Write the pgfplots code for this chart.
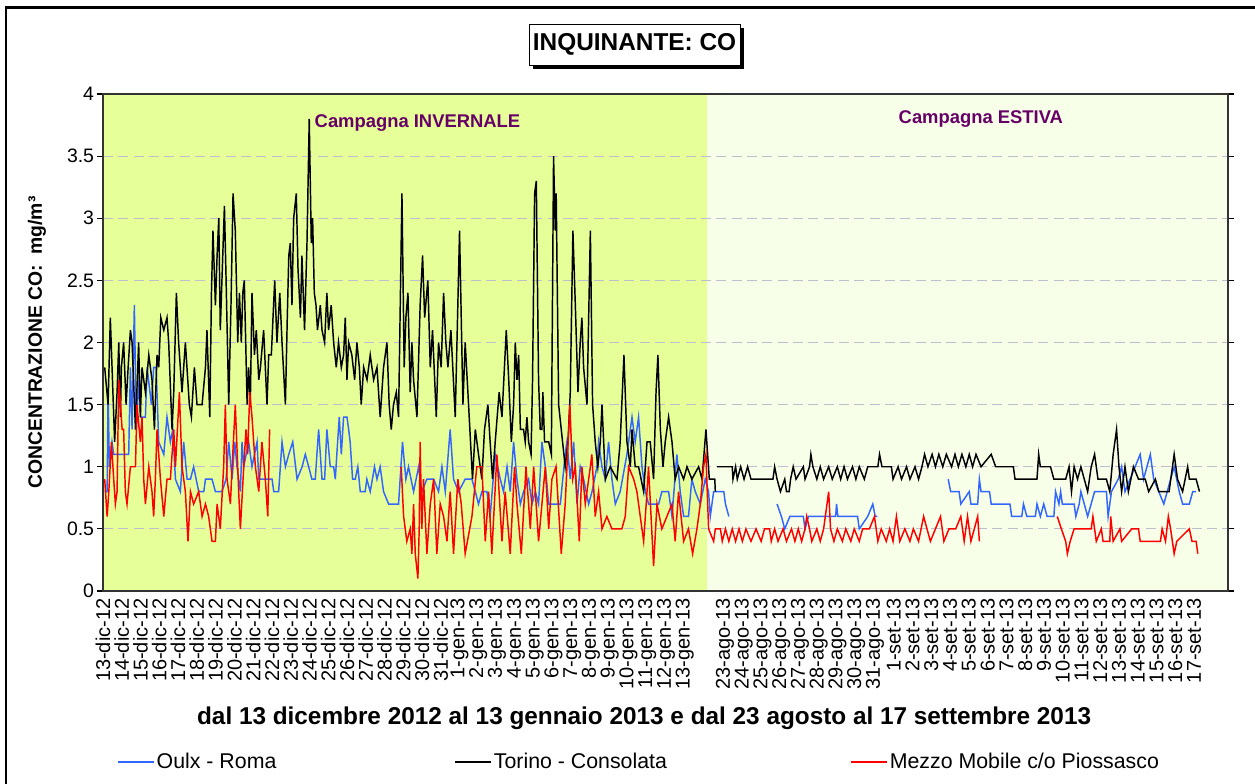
\documentclass[border=0pt]{standalone}
\usepackage{fontspec}
\setmainfont{Liberation Sans}
\usepackage{pgfplots}
\pgfplotsset{compat=1.18}
\usepackage{pgfplotstable}
\definecolor{winter}{RGB}{230,255,153}
\definecolor{summer}{RGB}{248,255,232}
\definecolor{oulx}{RGB}{51,102,255}
\definecolor{camp}{RGB}{102,0,102}
\definecolor{gridc}{RGB}{190,190,205}

\pgfplotstableread{
x y
0.09 0.8
0.22 0.8
0.27 1.6
0.34 1.0
0.48 1.2
0.57 1.1
1.37 1.1
1.46 1.8
1.55 1.3
1.67 2.3
1.78 1.3
1.90 1.7
2.01 1.4
2.26 1.4
2.35 1.8
2.58 1.5
2.70 1.8
2.83 1.8
2.97 1.2
3.24 1.1
3.41 1.4
3.59 1.2
3.72 1.3
3.86 0.9
4.12 0.8
4.30 1.2
4.48 0.9
4.66 0.9
4.83 1.0
5.10 0.8
5.37 0.8
5.46 0.9
5.81 0.9
5.99 0.8
6.34 0.8
6.56 0.9
6.70 1.2
6.88 0.9
7.02 1.2
7.14 1.0
7.32 0.8
7.41 1.2
7.50 1.0
7.76 1.2
7.94 1.0
8.21 1.2
8.30 0.9
9.01 0.9
9.10 0.8
9.36 0.8
9.54 1.2
9.72 1.0
9.90 1.1
10.11 1.2
10.34 0.9
10.61 1.0
10.78 1.1
10.96 1.0
11.13 0.9
11.31 0.9
11.49 1.3
11.67 0.9
11.81 0.9
11.93 1.3
12.11 1.0
12.29 1.0
12.38 0.9
12.46 1.1
12.59 1.4
12.70 1.1
12.82 1.4
13.00 1.4
13.09 1.3
13.17 1.2
13.30 0.9
13.44 0.9
13.58 1.0
13.71 0.8
13.97 0.8
14.06 0.9
14.24 0.8
14.47 1.0
14.60 0.9
14.77 1.0
14.95 0.8
15.22 0.7
15.75 0.7
15.96 1.2
16.14 0.9
16.28 1.0
16.55 0.8
16.82 1.0
16.99 0.8
17.26 0.9
17.62 0.9
17.88 0.8
18.06 1.0
18.24 0.8
18.50 1.3
18.68 0.9
18.95 0.8
19.30 0.9
19.66 0.9
19.84 0.8
20.01 0.7
20.19 0.8
20.46 0.8
20.63 0.6
20.90 1.1
21.17 0.9
21.34 0.8
21.53 1.0
21.70 0.8
21.88 1.2
22.06 0.9
22.24 0.7
22.41 0.8
22.68 0.9
22.86 0.7
23.04 0.8
23.21 0.7
23.39 1.2
23.57 1.0
23.75 0.7
24.37 0.7
24.63 1.1
24.72 1.2
24.90 0.9
25.08 1.2
25.26 0.7
25.43 1.0
25.61 0.9
25.88 0.7
26.06 0.8
26.32 1.0
26.41 1.2
26.59 1.0
26.77 0.9
26.94 1.2
27.12 0.9
27.30 0.7
27.56 0.8
27.92 1.1
28.19 1.4
28.36 1.2
28.54 1.4
28.72 1.0
28.90 0.8
29.07 0.7
29.61 0.7
29.78 0.8
30.14 0.8
30.32 0.6
30.58 1.1
30.76 0.8
30.94 0.6
31.20 0.6
31.38 0.9
31.56 0.8
31.83 0.7
32.09 0.9
32.27 0.8
32.36 0.6
32.45 0.7
32.54 0.8
33.08 0.8
33.17 0.7
33.35 0.6
33.40 nan
35.92 0.7
36.15 0.6
36.33 0.5
36.60 0.6
37.32 0.6
37.41 0.5
37.59 0.6
39.04 0.6
39.09 0.7
39.16 0.6
40.21 0.6
40.30 0.5
40.75 0.6
41.02 0.7
41.15 0.6
41.26 0.6
41.30 nan
45.04 0.9
45.17 0.8
45.62 0.8
45.71 0.7
46.16 0.8
46.25 0.7
46.61 0.7
46.70 0.9
46.79 0.8
47.24 0.8
47.33 0.7
48.33 0.7
48.42 0.6
48.96 0.6
49.05 0.7
49.23 0.6
49.68 0.6
49.77 0.7
49.95 0.6
50.13 0.7
50.31 0.6
50.67 0.6
50.76 0.8
50.94 0.7
51.03 0.8
51.12 0.7
51.75 0.7
51.84 0.6
52.02 0.7
52.11 0.8
52.29 0.7
52.47 0.6
52.84 0.8
53.47 0.8
53.56 0.6
53.74 0.8
54.10 0.9
54.28 1.0
54.46 0.8
54.73 0.9
55.00 1.0
55.27 1.1
55.45 0.9
55.81 1.1
55.99 0.9
56.26 0.8
56.53 0.7
56.71 0.8
56.89 0.9
57.08 1.0
57.35 0.8
57.53 0.7
57.89 0.7
58.07 0.8
58.25 0.8
}\oulx

\pgfplotstableread{
x y
0.09 1.8
0.27 1.5
0.39 2.2
0.62 1.2
0.75 1.6
0.84 2.0
0.93 1.4
0.98 1.8
1.10 2.0
1.23 1.5
1.34 1.8
1.46 2.1
1.55 2.0
1.73 1.3
1.90 2.0
1.99 1.4
2.08 1.8
2.26 1.6
2.44 1.9
2.61 1.7
2.74 1.3
2.88 1.9
2.97 1.8
3.08 2.2
3.24 2.1
3.41 2.2
3.50 2.0
3.68 1.3
3.77 1.6
3.91 2.4
4.03 2.0
4.21 1.6
4.39 2.0
4.60 1.5
4.71 1.4
4.87 1.8
5.01 1.5
5.28 1.5
5.46 1.8
5.54 2.1
5.69 1.4
5.78 2.4
5.86 2.9
5.99 2.3
6.08 2.7
6.17 3.0
6.25 2.1
6.47 3.1
6.56 2.5
6.70 1.5
6.82 2.3
6.93 3.2
7.05 2.9
7.18 2.0
7.27 2.4
7.37 2.0
7.45 2.4
7.53 2.5
7.68 1.5
7.76 1.8
7.85 1.5
7.94 2.4
8.07 1.9
8.17 2.1
8.30 1.7
8.39 1.8
8.56 2.1
8.74 1.5
8.83 1.9
8.97 1.9
9.06 2.2
9.15 2.5
9.27 2.0
9.42 2.4
9.54 2.0
9.72 1.5
9.82 2.2
9.90 2.7
9.98 2.8
10.07 2.3
10.16 3.0
10.30 3.2
10.39 2.6
10.52 2.2
10.60 2.7
10.74 2.1
10.87 2.8
10.99 3.8
11.10 2.8
11.17 3.0
11.26 2.4
11.35 2.3
11.43 2.1
11.58 2.3
11.67 2.1
11.81 2.0
11.93 2.4
12.02 2.1
12.16 2.3
12.29 2.0
12.43 1.8
12.55 2.0
12.70 1.8
12.82 1.9
12.91 2.2
13.00 1.7
13.09 2.0
13.26 1.9
13.41 1.7
13.53 2.0
13.66 1.8
13.76 1.5
13.89 1.8
14.07 1.7
14.24 1.9
14.42 1.7
14.60 1.8
14.77 1.4
14.95 1.8
15.13 2.0
15.25 1.5
15.36 1.3
15.48 1.5
15.63 1.6
15.75 1.4
15.93 3.2
16.05 1.8
16.14 2.2
16.25 2.4
16.37 1.6
16.46 2.0
16.55 1.7
16.73 1.4
16.90 2.3
17.03 2.7
17.14 2.2
17.31 2.5
17.44 1.8
17.56 2.1
17.76 1.4
17.88 2.0
18.02 1.8
18.15 2.4
18.27 2.0
18.38 1.8
18.54 2.1
18.77 1.4
19.00 2.9
19.18 1.5
19.30 2.0
19.48 1.5
19.69 0.9
19.84 1.3
20.01 1.1
20.19 0.9
20.33 1.3
20.51 1.5
20.63 1.2
20.76 0.9
20.90 1.2
21.11 1.6
21.26 1.4
21.49 2.1
21.62 1.7
21.76 1.2
21.88 1.5
21.97 2.0
22.06 1.7
22.15 1.9
22.24 1.3
22.41 1.3
22.50 1.2
22.59 1.4
22.68 1.2
22.81 1.1
22.89 1.7
23.00 3.2
23.09 3.3
23.21 1.7
23.30 1.3
23.39 1.3
23.44 1.6
23.53 1.2
23.75 1.2
23.89 1.1
24.01 3.5
24.10 2.9
24.15 3.2
24.28 1.5
24.42 1.3
24.63 1.0
24.78 1.2
24.90 1.6
25.04 2.9
25.17 2.3
25.31 1.6
25.43 2.0
25.52 2.2
25.61 1.8
25.79 1.5
25.97 2.9
26.09 1.5
26.23 1.2
26.37 1.0
26.50 1.2
26.59 1.5
26.77 0.9
27.03 1.0
27.39 0.9
27.56 1.2
27.76 1.9
27.92 1.2
28.10 1.0
28.19 1.3
28.36 1.0
28.54 1.0
28.81 0.8
28.99 1.2
29.16 1.2
29.34 0.9
29.47 1.6
29.57 1.9
29.70 1.3
29.84 1.0
29.96 1.2
30.14 1.4
30.32 1.2
30.49 0.9
30.67 1.0
30.94 0.9
31.12 1.0
31.38 0.9
31.74 1.0
31.92 0.9
32.13 1.3
32.31 0.9
32.60 0.9
32.63 0.8
32.67 nan
32.72 1.0
33.53 1.0
33.57 0.9
33.71 1.0
33.80 0.9
33.98 1.0
34.16 0.9
34.35 1.0
34.53 0.9
35.70 0.9
35.79 1.0
35.92 0.9
36.10 0.8
36.33 0.9
36.42 0.8
36.56 0.8
36.64 0.9
36.78 1.0
36.93 0.9
37.32 1.0
37.41 0.9
37.65 1.0
37.72 1.1
37.83 1.0
38.04 0.9
38.22 1.0
38.40 0.9
38.67 1.0
38.86 0.9
39.13 1.0
39.31 0.9
39.49 1.0
39.67 0.9
39.94 1.0
40.12 0.9
40.30 1.0
40.57 0.9
40.75 1.0
41.29 1.0
41.38 1.1
41.51 1.0
42.01 1.0
42.10 0.9
42.37 1.0
42.55 0.9
42.82 1.0
43.00 0.9
43.27 1.0
43.46 0.9
43.64 1.0
43.78 1.1
43.96 1.0
44.18 1.1
44.36 1.0
44.54 1.1
44.75 1.0
44.94 1.1
45.22 1.0
45.40 1.1
45.58 1.0
45.77 1.1
45.98 1.0
46.16 1.1
46.34 1.0
46.52 1.1
46.79 1.0
47.33 1.1
47.57 1.0
48.51 1.0
48.60 0.9
49.77 0.9
49.86 1.1
49.95 1.0
50.49 1.0
50.67 0.9
51.30 0.9
51.48 1.0
51.61 0.8
51.75 1.0
51.93 0.9
52.11 1.0
52.29 0.9
52.47 0.8
52.66 1.0
52.84 1.1
53.02 0.9
53.47 0.9
53.65 0.8
53.83 1.1
54.01 1.3
54.14 1.0
54.28 0.8
54.46 1.0
54.64 0.8
54.91 1.0
55.18 0.9
55.54 0.9
55.72 0.8
56.08 0.9
56.26 0.8
56.81 0.8
56.99 1.0
57.08 1.1
57.26 0.9
57.53 0.8
57.80 1.0
57.89 0.9
58.25 0.9
58.43 0.8
}\torino

\pgfplotstableread{
x y
0.09 0.9
0.22 0.6
0.31 0.8
0.45 1.2
0.57 0.9
0.66 0.7
0.75 0.8
0.84 1.7
0.93 1.5
1.02 1.3
1.10 1.3
1.19 0.8
1.28 0.7
1.46 1.0
1.73 1.0
1.81 1.5
1.99 1.2
2.08 1.4
2.17 0.9
2.26 0.7
2.44 1.0
2.61 0.8
2.70 0.6
2.79 0.9
2.88 1.3
3.06 0.9
3.24 0.6
3.41 0.9
3.59 0.9
3.77 1.3
3.86 1.0
4.07 1.6
4.21 1.0
4.39 0.8
4.53 0.4
4.66 0.8
4.83 0.7
5.10 0.8
5.19 0.7
5.28 0.6
5.46 0.7
5.63 0.6
5.81 0.4
5.99 0.4
6.08 0.7
6.25 0.5
6.43 1.0
6.52 1.5
6.61 0.9
6.79 0.7
6.88 1.0
7.05 1.5
7.23 0.8
7.32 0.5
7.50 1.0
7.62 1.3
7.71 1.1
7.82 1.6
7.94 1.4
8.12 1.0
8.30 0.8
8.47 1.2
8.65 0.9
8.78 0.6
8.88 1.3
8.92 nan
15.89 1.0
16.02 0.6
16.19 0.4
16.37 0.5
16.46 0.3
16.55 0.7
16.64 0.3
16.78 0.1
16.85 0.5
16.90 1.2
16.99 0.5
17.08 0.9
17.26 0.3
17.44 0.7
17.62 0.9
17.79 0.3
17.97 0.7
18.15 0.6
18.33 0.4
18.50 0.8
18.68 0.3
18.91 0.9
19.09 0.7
19.30 0.3
19.66 0.6
19.92 1.0
20.19 1.0
20.37 0.4
20.55 0.8
20.72 0.3
20.99 1.1
21.26 0.4
21.43 0.8
21.70 0.3
21.93 1.0
22.06 0.7
22.29 0.3
22.54 1.0
22.77 0.5
22.95 1.0
23.21 0.4
23.57 1.0
23.75 0.5
23.92 0.9
24.14 1.0
24.42 0.3
24.63 0.7
24.88 1.5
25.03 0.9
25.17 1.0
25.38 0.4
25.52 1.0
25.70 0.7
25.97 1.0
26.05 1.1
26.23 0.6
26.41 0.8
26.59 0.5
26.85 0.6
27.12 0.5
27.65 0.5
27.83 0.6
28.01 1.0
28.28 0.9
28.45 0.8
28.81 0.4
28.99 0.8
29.07 1.0
29.34 0.2
29.52 0.7
29.78 0.5
30.05 0.6
30.32 0.7
30.49 0.4
30.67 0.8
30.94 0.4
31.20 0.5
31.42 0.3
31.65 0.5
31.83 0.7
32.00 1.0
32.13 1.1
32.27 0.5
32.54 0.4
32.63 0.5
32.90 0.5
33.00 0.4
33.17 0.5
33.35 0.4
33.53 0.5
33.71 0.4
33.89 0.5
34.07 0.4
34.26 0.5
34.53 0.4
34.80 0.5
35.07 0.4
35.25 0.5
35.52 0.5
35.61 0.4
35.79 0.5
35.97 0.4
36.24 0.5
36.42 0.4
36.69 0.5
36.87 0.4
37.05 0.5
37.23 0.4
37.41 0.5
37.50 0.6
37.65 0.5
37.77 0.4
38.04 0.5
38.22 0.4
38.40 0.5
38.67 0.8
38.77 0.5
38.95 0.4
39.13 0.5
39.40 0.4
39.58 0.5
39.85 0.4
40.03 0.5
40.30 0.4
40.48 0.5
40.84 0.5
41.11 0.6
41.29 0.4
41.47 0.5
41.74 0.4
41.92 0.5
42.10 0.4
42.28 0.6
42.46 0.4
42.73 0.5
43.00 0.4
43.18 0.5
43.46 0.4
43.73 0.6
43.91 0.5
44.09 0.4
44.36 0.5
44.63 0.6
44.81 0.4
45.08 0.5
45.44 0.5
45.71 0.6
45.89 0.4
46.07 0.6
46.25 0.4
46.43 0.5
46.61 0.6
46.70 0.4
46.75 nan
50.85 0.6
51.07 0.5
51.30 0.4
51.39 0.3
51.54 0.4
51.75 0.5
52.66 0.5
52.75 0.6
52.93 0.4
53.20 0.5
53.29 0.4
53.65 0.4
53.70 0.6
53.83 0.4
54.19 0.5
54.28 0.4
54.82 0.5
55.18 0.5
55.27 0.4
56.35 0.4
56.44 0.5
56.62 0.4
56.77 0.6
56.89 0.5
57.08 0.3
57.22 0.4
57.89 0.5
58.03 0.4
58.25 0.4
58.34 0.3
}\mezzo

\begin{document}
\begin{tikzpicture}
\path (0,0) rectangle (941.25pt,587.25pt);
\draw[overlay, line width=1.6pt] (4.5pt,-20pt) -- (4.5pt,581.6pt) -- (960pt,581.6pt);
% title box
\fill[black] (399.5pt,535.5pt) rectangle (558pt,566.5pt);
\filldraw[fill=white,draw=black,line width=0.7pt] (396.75pt,538.5pt) rectangle (555pt,569.25pt);
\node[font=\bfseries\fontsize{18.3}{20}\selectfont] at (475.9pt,553.9pt) {INQUINANTE: CO};
\begin{axis}[
  at={(77.25pt,144pt)}, anchor=south west,
  width=843.75pt, height=372.75pt, scale only axis,
  set layers,
  xmin=0, xmax=59.95, ymin=0, ymax=4,
  unbounded coords=jump,
  /pgf/number format/assume math mode=true,
  ytick={0,0.5,1,1.5,2,2.5,3,3.5,4},
  yticklabels={0,0.5,1,1.5,2,2.5,3,3.5,4},
  ymajorgrids,
  grid style={gridc, dash pattern=on 7.5pt off 4pt, line width=0.8pt},
  xtick={0,1,2,3,4,5,6,7,8,9,10,11,12,13,14,15,16,17,18,19,20,21,22,23,24,25,26,27,28,29,30,31,
         33.14,34.14,35.14,36.14,37.14,38.14,39.14,40.14,41.14,42.14,43.14,44.14,45.14,46.14,47.14,48.14,49.14,50.14,51.14,52.14,53.14,54.14,55.14,56.14,57.14,58.14},
  xticklabels={13-dic-12,14-dic-12,15-dic-12,16-dic-12,17-dic-12,18-dic-12,19-dic-12,20-dic-12,21-dic-12,22-dic-12,23-dic-12,24-dic-12,25-dic-12,26-dic-12,27-dic-12,28-dic-12,29-dic-12,30-dic-12,31-dic-12,1-gen-13,2-gen-13,3-gen-13,4-gen-13,5-gen-13,6-gen-13,7-gen-13,8-gen-13,9-gen-13,10-gen-13,11-gen-13,12-gen-13,13-gen-13,
    23-ago-13,24-ago-13,25-ago-13,26-ago-13,27-ago-13,28-ago-13,29-ago-13,30-ago-13,31-ago-13,1-set-13,2-set-13,3-set-13,4-set-13,5-set-13,6-set-13,7-set-13,8-set-13,9-set-13,10-set-13,11-set-13,12-set-13,13-set-13,14-set-13,15-set-13,16-set-13,17-set-13},
  xticklabel style={rotate=90, anchor=east, inner sep=1pt, font=\fontsize{15}{16}\selectfont},
  yticklabel style={font=\fontsize{14.6}{16}\selectfont, inner sep=2pt},
  tick align=outside, major tick length=4.5pt,
  xtick style={draw=none},
  ytick style={black, line width=0.8pt},
  axis line style={black!80, line width=1pt},
  ylabel={CONCENTRAZIONE CO:~~mg/m³},
  ylabel style={at={(axis description cs:-0.0587,0.5)}, anchor=center, font=\bfseries\fontsize{14.5}{16}\selectfont},
  xlabel={dal 13 dicembre 2012 al 13 gennaio 2013 e dal 23 agosto al 17 settembre 2013},
  xlabel style={at={(axis description cs:0.481,-0.2555)}, anchor=center, font=\bfseries\fontsize{18.25}{20}\selectfont},
  legend columns=3,
  legend image code/.code={\draw[#1] (0pt,0pt) -- (27pt,0pt);},
  legend style={draw=none, fill=none, at={(axis description cs:0.0124,-0.344)}, anchor=west,
    inner sep=0pt, font=\fontsize{16}{18}\selectfont, nodes={inner sep=1.5pt},
    /tikz/column 2/.style={column sep=132pt}, /tikz/column 4/.style={column sep=136pt}},
]
\addplot[fill=winter, draw=none, forget plot, on layer=axis background] coordinates {(0,0) (32.2,0) (32.2,4) (0,4) (0,0)};
\addplot[fill=summer, draw=none, forget plot, on layer=axis background] coordinates {(32.2,0) (59.95,0) (59.95,4) (32.2,4) (32.2,0)};
\addplot[oulx, line width=1.1pt] table {\oulx};
\addlegendentry{Oulx - Roma}
\addplot[black, line width=1.1pt] table {\torino};
\addlegendentry{Torino - Consolata}
\addplot[red, line width=1.1pt] table {\mezzo};
\addlegendentry{Mezzo Mobile c/o Piossasco}
\end{axis}
\node[anchor=west, text=camp, font=\bfseries\fontsize{13.8}{15}\selectfont] at (232.5pt,495pt) {Campagna INVERNALE};
\node[anchor=west, text=camp, font=\bfseries\fontsize{13.8}{15}\selectfont] at (670.5pt,498pt) {Campagna ESTIVA};
\end{tikzpicture}
\end{document}
